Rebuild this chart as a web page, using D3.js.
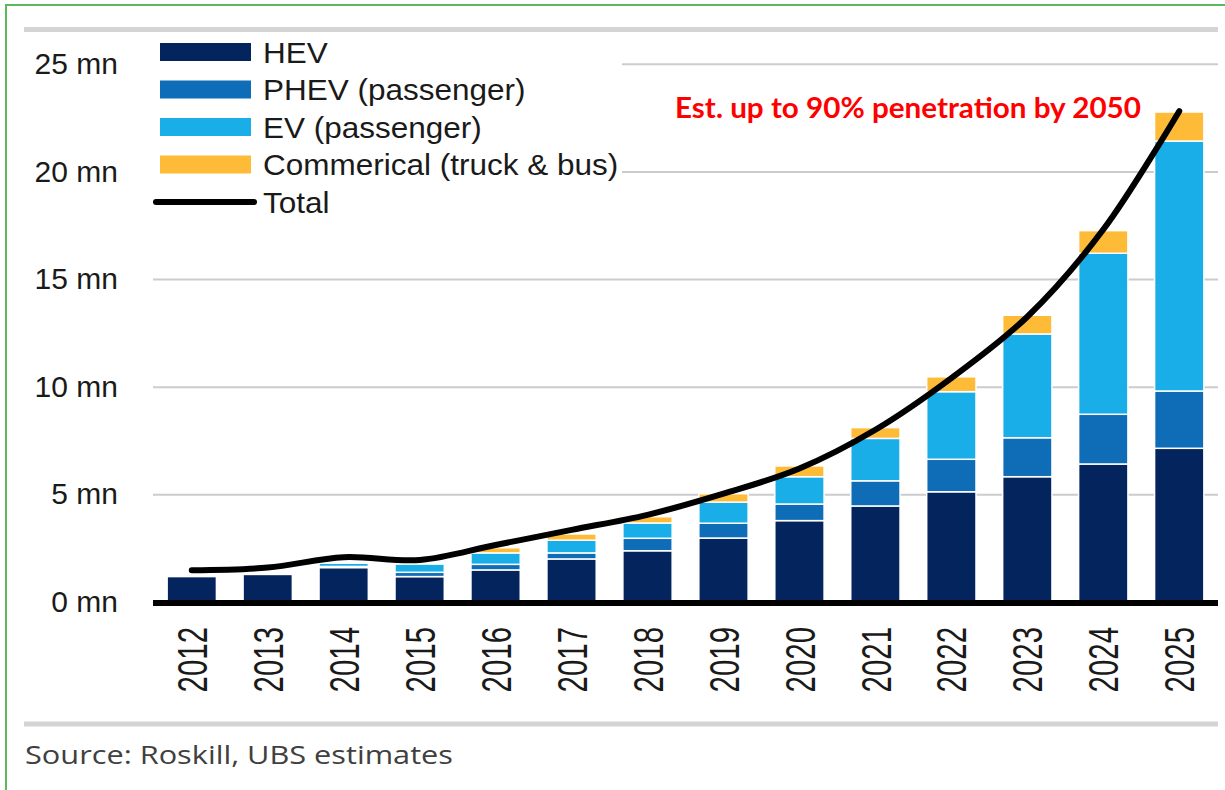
<!DOCTYPE html>
<html>
<head>
<meta charset="utf-8">
<script src="https://cdn.jsdelivr.net/npm/d3@7"></script>
<style>
  body { margin: 0; background: #fff; }
  svg { display: block; }
</style>
</head>
<body>
<div id="chart"></div>
<script>
var years = ["2012", "2013", "2014", "2015", "2016", "2017", "2018", "2019", "2020", "2021", "2022", "2023", "2024", "2025"]
var hev = [1.18, 1.28, 1.6, 1.18, 1.49, 2.0, 2.38, 2.97, 3.78, 4.46, 5.12, 5.82, 6.41, 7.14]
var phev = [0, 0, 0.05, 0.2, 0.26, 0.28, 0.58, 0.69, 0.77, 1.17, 1.51, 1.81, 2.31, 2.66]
var ev = [0, 0, 0.15, 0.38, 0.53, 0.59, 0.71, 0.98, 1.27, 1.97, 3.14, 4.82, 7.48, 11.61]
var commercial = [0, 0, 0, 0, 0.24, 0.29, 0.29, 0.39, 0.5, 0.5, 0.69, 0.87, 1.05, 1.35]
var total = [1.48, 1.6, 2.08, 1.95, 2.65, 3.35, 4.05, 5.03, 6.2, 8.0, 10.4, 13.25, 17.3, 22.8]

var seriesKeys = ["hev", "phev", "ev", "commercial"]
var seriesNames = ["HEV", "PHEV (passenger)", "EV (passenger)", "Commerical (truck & bus)"]
var seriesColors = ["#03245c", "#0f6db7", "#1aaee8", "#fdbb37"]
var yTicks = [0, 5, 10, 15, 20, 25]

var width = 1225
var height = 790

var rows = years.map(function(y, i) {
  return { year: y, hev: hev[i], phev: phev[i], ev: ev[i], commercial: commercial[i], total: total[i] }
})

var svg = d3.select('#chart').append('svg')
  .attr('width', width)
  .attr('height', height)

// frame
svg.append('rect')
  .attr('x', 6).attr('y', 5)
  .attr('width', 1400).attr('height', 900)
  .attr('fill', 'none')
  .attr('stroke', '#5cb85c')
  .attr('stroke-width', 2)

svg.append('line')
  .attr('x1', 24).attr('x2', 1218)
  .attr('y1', 29.5).attr('y2', 29.5)
  .attr('stroke', '#d4d4d4').attr('stroke-width', 5)

svg.append('line')
  .attr('x1', 24).attr('x2', 1218)
  .attr('y1', 724).attr('y2', 724)
  .attr('stroke', '#d4d4d4').attr('stroke-width', 5)

var x = d3.scaleBand()
  .domain(years)
  .range([153, 1218])
  .paddingInner(0.351)
  .paddingOuter(0.186)

var y = d3.scaleLinear()
  .domain([0, 25])
  .range([602, 63.8])

// y axis with gridlines
var yAxis = svg.append('g')
  .attr('transform', 'translate(153,0)')
  .call(d3.axisLeft(y)
    .tickValues(yTicks)
    .tickSize(-(1218 - 153))
    .tickPadding(35)
    .tickFormat(function(d) { return d + ' mn' }))

yAxis.select('.domain').remove()
yAxis.selectAll('.tick line')
  .attr('stroke', '#cccccc')
  .attr('stroke-width', 2)
yAxis.selectAll('.tick text')
  .attr('fill', '#1a1a1a')
  .style('font-family', 'Liberation Sans, Arial, sans-serif')
  .style('font-size', '30px')

// stacked bars
var stack = d3.stack().keys(seriesKeys)
var layers = stack(rows)

svg.append('g')
  .selectAll('g')
  .data(layers)
  .enter().append('g')
  .attr('fill', function(d, i) { return seriesColors[i] })
  .selectAll('rect')
  .data(function(d) { return d })
  .enter().append('rect')
  .attr('x', function(d) { return x(d.data.year) })
  .attr('width', x.bandwidth())
  .attr('y', function(d) { return y(d[1]) })
  .attr('height', function(d) { return Math.max(0, y(d[0]) - y(d[1])) })
  .attr('stroke', '#ffffff')
  .attr('stroke-width', 1.5)

// baseline
svg.append('line')
  .attr('x1', 153).attr('x2', 1218)
  .attr('y1', y(0) + 1).attr('y2', y(0) + 1)
  .attr('stroke', '#000').attr('stroke-width', 6)

// x axis labels
var xAxis = svg.append('g')
  .attr('transform', 'translate(0,' + y(0) + ')')
  .call(d3.axisBottom(x).tickSize(0))

xAxis.select('.domain').remove()
xAxis.selectAll('.tick text')
  .attr('x', 0)
  .attr('y', 0)
  .attr('dy', '0.36em')
  .attr('transform', 'translate(0,25) rotate(-90) scale(0.7,1)')
  .attr('text-anchor', 'end')
  .attr('fill', '#1a1a1a')
  .style('font-family', 'Liberation Sans, Arial, sans-serif')
  .style('font-size', '42px')

// total line
var line = d3.line()
  .x(function(d) { return x(d.year) + x.bandwidth() / 2 })
  .y(function(d) { return y(d.total) })
  .curve(d3.curveCatmullRom)

svg.append('path')
  .datum(rows)
  .attr('d', line)
  .attr('fill', 'none')
  .attr('stroke', '#000')
  .attr('stroke-width', 6)
  .attr('stroke-linecap', 'round')

// legend (white box hides the top gridlines)
var legend = svg.append('g')
legend.append('rect')
  .attr('x', 153).attr('y', 36)
  .attr('width', 469).attr('height', 182)
  .attr('fill', '#fff')

var legendStep = 37.5
seriesNames.forEach(function(name, i) {
  var cy = 52 + i * legendStep
  legend.append('rect')
    .attr('x', 160).attr('y', cy - 9)
    .attr('width', 91).attr('height', 18)
    .attr('fill', seriesColors[i])
  legend.append('text')
    .attr('transform', 'translate(263,' + (cy + 10.7) + ') scale(1.05,1)')
    .attr('fill', '#1a1a1a')
    .style('font-family', 'Liberation Sans, Arial, sans-serif')
    .style('font-size', '30px')
    .text(name)
})
var totalY = 52 + 4 * legendStep
legend.append('line')
  .attr('x1', 156).attr('x2', 254)
  .attr('y1', totalY).attr('y2', totalY)
  .attr('stroke', '#000').attr('stroke-width', 6)
  .attr('stroke-linecap', 'round')
legend.append('text')
  .attr('transform', 'translate(263,' + (totalY + 10.7) + ') scale(1.05,1)')
  .attr('fill', '#1a1a1a')
  .style('font-family', 'Liberation Sans, Arial, sans-serif')
  .style('font-size', '30px')
  .text('Total')

// annotation
svg.append('text')
  .attr('x', 675).attr('y', 118)
  .attr('textLength', 466)
  .attr('lengthAdjust', 'spacingAndGlyphs')
  .attr('fill', '#ff0000')
  .style('font-family', 'Lato, Open Sans, sans-serif')
  .style('font-weight', 'bold')
  .style('font-size', '28px')
  .text('Est. up to 90% penetration by 2050')

// source
svg.append('text')
  .attr('x', 25).attr('y', 764)
  .attr('textLength', 428)
  .attr('lengthAdjust', 'spacingAndGlyphs')
  .attr('fill', '#404040')
  .style('font-family', 'Open Sans, Noto Sans, sans-serif')
  .style('font-size', '26px')
  .text('Source: Roskill, UBS estimates')
</script>
</body>
</html>
